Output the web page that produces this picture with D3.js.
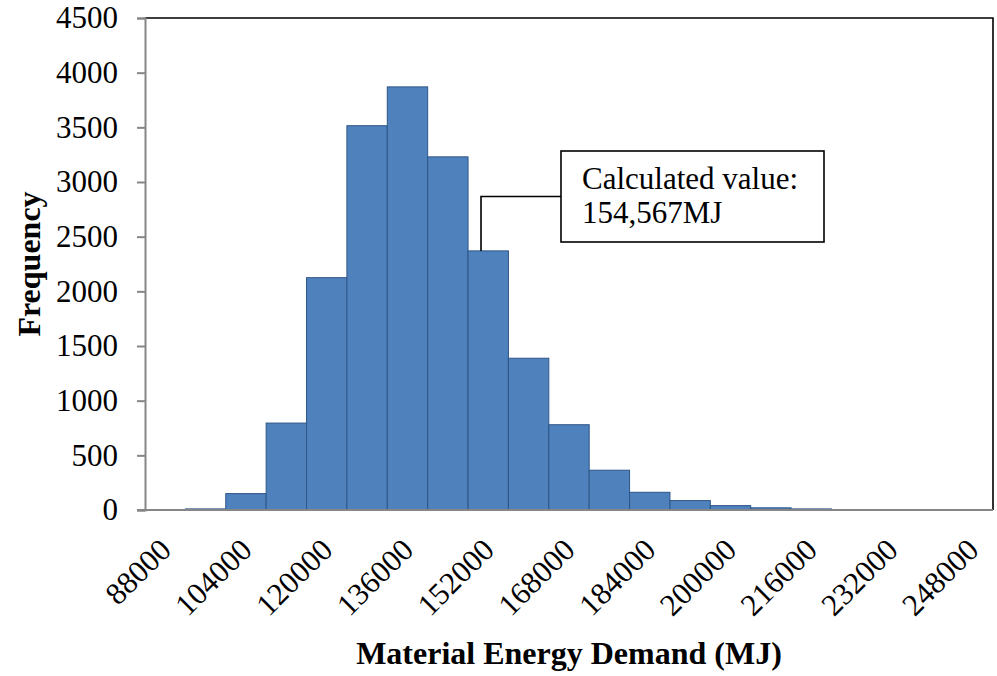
<!DOCTYPE html>
<html>
<head>
<meta charset="utf-8">
<script src="https://cdn.jsdelivr.net/npm/d3@7"></script>
<style>
  html, body { margin: 0; padding: 0; background: #fff; }
  svg { display: block; }
</style>
</head>
<body>
<svg id="chart" width="997" height="676"></svg>
<script>
// ---- data ----
const binStarts = [88000, 96000, 104000, 112000, 120000, 128000, 136000, 144000, 152000, 160000,
                   168000, 176000, 184000, 192000, 200000, 208000, 216000, 224000, 232000, 240000, 248000];
const frequencies = [0, 10, 150, 795, 2125, 3515, 3870, 3230, 2370, 1388,
                     780, 364, 162, 86, 40, 20, 10, 4, 3, 2, 0];
const xTickLabels = [88000, 104000, 120000, 136000, 152000, 168000, 184000, 200000, 216000, 232000, 248000];
const yTicks = [0, 500, 1000, 1500, 2000, 2500, 3000, 3500, 4000, 4500];
const calculatedValue = 154567;
const annotationLines = ["Calculated value:", "154,567MJ"];
const xTitle = "Material Energy Demand (MJ)";
const yTitle = "Frequency";

// ---- layout ----
const L = 145, R = 993, T = 18, B = 510;
const serif = "'Liberation Serif', 'Times New Roman', serif";
const svg = d3.select("#chart");

const x = d3.scaleBand().domain(binStarts).range([L, R]).padding(0);
const xv = d3.scaleLinear().domain([binStarts[0], binStarts[binStarts.length - 1] + 8000]).range([L, R]);
const y = d3.scaleLinear().domain([0, 4500]).range([B, T]);

// bars
svg.append("g").selectAll("rect")
  .data(binStarts.map((b, i) => ({ b, v: frequencies[i] })))
  .join("rect")
  .attr("x", d => x(d.b))
  .attr("width", x.bandwidth())
  .attr("y", d => y(d.v))
  .attr("height", d => B - y(d.v))
  .attr("fill", "#4F81BD")
  .attr("stroke", "#2E5688")
  .attr("stroke-width", 1);

// frame top and right
svg.append("path")
  .attr("d", `M${L},${T}H${R}V${B}`)
  .attr("fill", "none").attr("stroke", "#000").attr("stroke-width", 1.6);

// y axis
const yAxis = svg.append("g").attr("transform", `translate(${L},0)`)
  .call(d3.axisLeft(y).tickValues(yTicks).tickSize(8).tickPadding(19).tickFormat(d3.format("d")));
yAxis.select(".domain").attr("stroke", "#868686").attr("stroke-width", 2);
yAxis.selectAll(".tick line").attr("stroke", "#868686").attr("stroke-width", 2);
yAxis.selectAll("text").attr("font-family", serif).attr("font-size", 31).attr("fill", "#000");

// x axis baseline
svg.append("line").attr("x1", L - 8).attr("x2", R).attr("y1", B).attr("y2", B)
  .attr("stroke", "#868686").attr("stroke-width", 2.2);

// x tick labels
svg.append("g").selectAll("text")
  .data(xTickLabels)
  .join("text")
  .attr("transform", d => `translate(${x(d) + x.bandwidth() / 2},${B + 34}) rotate(-45)`)
  .attr("text-anchor", "end")
  .attr("dy", "0.35em")
  .attr("font-family", serif).attr("font-size", 31).attr("fill", "#000")
  .text(d => d);

// titles
svg.append("text")
  .attr("x", (L + R) / 2).attr("y", 664)
  .attr("text-anchor", "middle")
  .attr("font-family", serif).attr("font-size", 32).attr("font-weight", "bold")
  .text(xTitle);
svg.append("text")
  .attr("transform", `translate(40,${(T + B) / 2}) rotate(-90)`)
  .attr("text-anchor", "middle")
  .attr("font-family", serif).attr("font-size", 32).attr("font-weight", "bold")
  .text(yTitle);

// annotation
const ax = xv(calculatedValue);
const boxX = 561, boxY = 151, boxW = 263, boxH = 91;
svg.append("path")
  .attr("d", `M${ax},${y(frequencies[8])}V${boxY + boxH / 2}H${boxX}`)
  .attr("fill", "none").attr("stroke", "#000").attr("stroke-width", 1.6);
svg.append("rect")
  .attr("x", boxX).attr("y", boxY).attr("width", boxW).attr("height", boxH)
  .attr("fill", "#fff").attr("stroke", "#000").attr("stroke-width", 1.6);
svg.append("g").selectAll("text")
  .data(annotationLines)
  .join("text")
  .attr("x", boxX + 21).attr("y", (d, i) => boxY + 38 + i * 34)
  .attr("font-family", serif).attr("font-size", 31).attr("fill", "#000")
  .text(d => d);
</script>
</body>
</html>
